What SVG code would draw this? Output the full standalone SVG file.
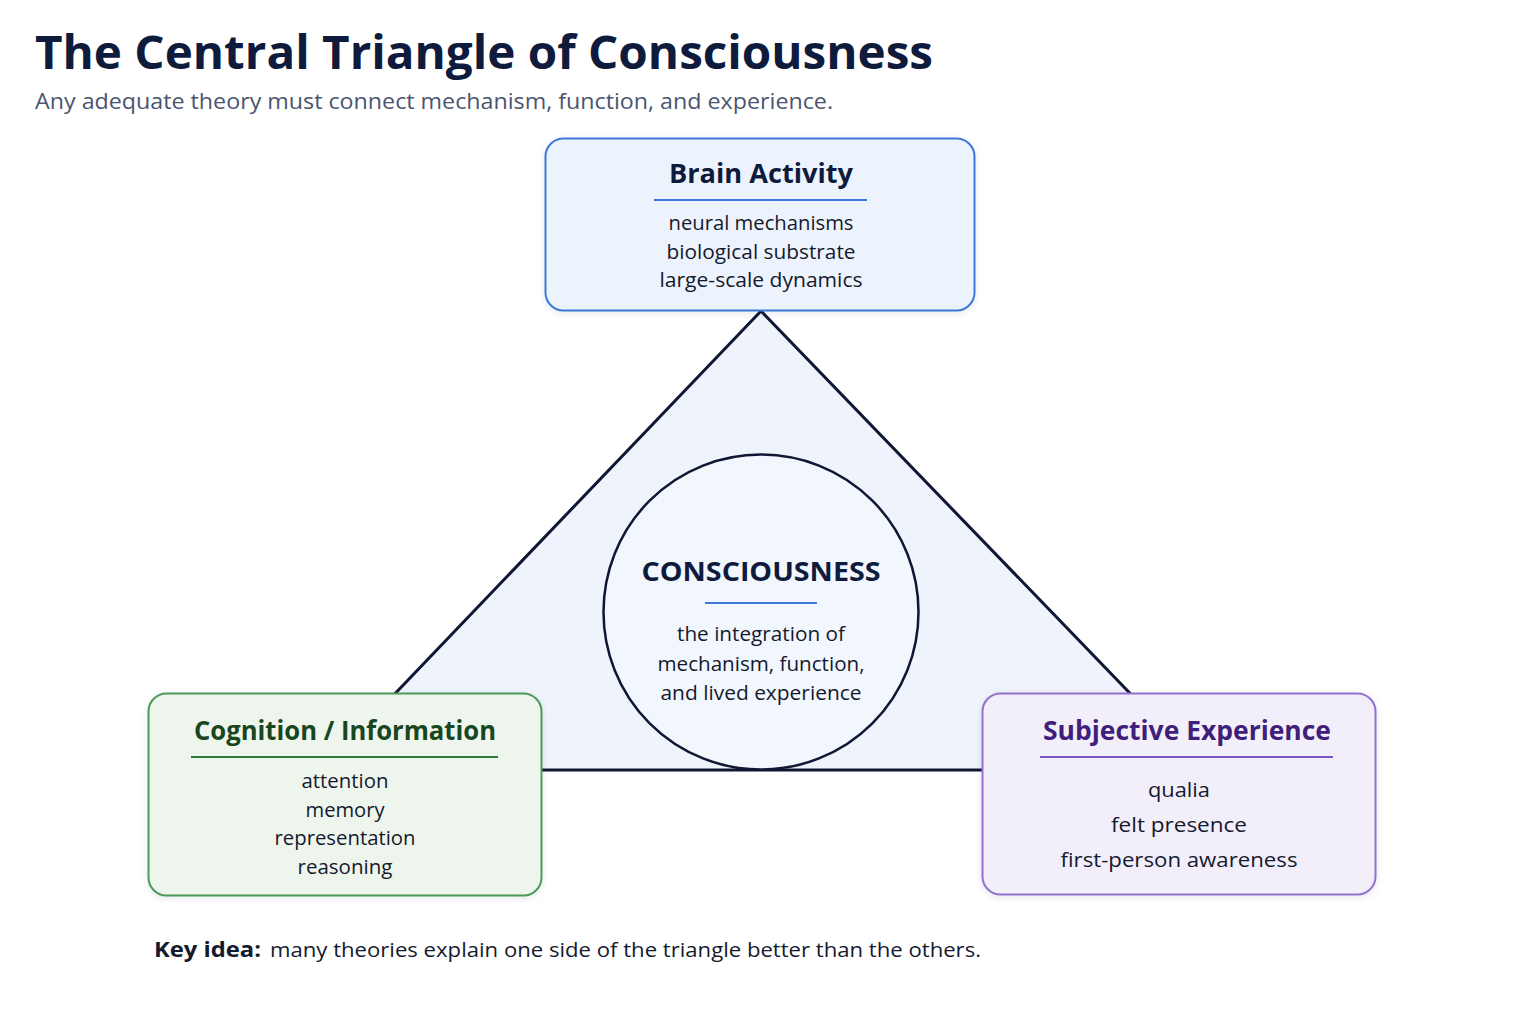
<svg xmlns="http://www.w3.org/2000/svg" width="1536" height="1024" viewBox="0 0 1536 1024">
<defs>
<style>
text{font-family:"Open Sans","Noto Sans","Liberation Sans",sans-serif;}
.title{font-size:46px;font-weight:700;fill:#0f1b3d;}
.sub{font-size:21.5px;fill:#4a5570;}
.head{font-size:26px;font-weight:700;text-anchor:middle;}
.item{font-size:20px;fill:#141a2e;text-anchor:middle;}
.key{font-size:20.5px;fill:#141a2e;}
.edge{fill:none;stroke:#0f1733;stroke-width:3;stroke-linejoin:round;}
</style>
<filter id="sh" x="-10%" y="-10%" width="120%" height="130%">
<feDropShadow dx="0" dy="2" stdDeviation="3" flood-color="#1a2a50" flood-opacity="0.10"/>
</filter>
</defs>
<rect width="1536" height="1024" fill="#ffffff"/>
<text class="title" x="35" y="69" textLength="898" lengthAdjust="spacingAndGlyphs">The Central Triangle of Consciousness</text>
<text class="sub" x="35" y="109" textLength="798" lengthAdjust="spacingAndGlyphs">Any adequate theory must connect mechanism, function, and experience.</text>

<g id="connectors">
<polygon points="761,311 322,770 1204,770" fill="#eff4fc" stroke="none"/>
<polyline class="edge" points="761,311 322,770 1204,770 761,311"/>
</g>

<g id="consciousness">
<circle cx="761" cy="612" r="157.5" fill="#f2f6fd" stroke="#0f1733" stroke-width="2.5"/>
<text class="head" x="761" y="581" style="fill:#0f1b3d" textLength="239" lengthAdjust="spacingAndGlyphs">CONSCIOUSNESS</text>
<line x1="705" y1="603" x2="817" y2="603" stroke="#3b78d8" stroke-width="2"/>
<text class="item" x="761" y="641" textLength="168" lengthAdjust="spacingAndGlyphs">the integration of</text>
<text class="item" x="761" y="671" textLength="207" lengthAdjust="spacingAndGlyphs">mechanism, function,</text>
<text class="item" x="761" y="700" textLength="201" lengthAdjust="spacingAndGlyphs">and lived experience</text>
</g>

<g id="brain">
<rect x="545.5" y="138.5" width="429" height="172" rx="18" fill="#edf3fd" stroke="#3b78d8" stroke-width="2" filter="url(#sh)"/>
<text class="head" x="761" y="183" style="fill:#0f1b3d" textLength="184" lengthAdjust="spacingAndGlyphs">Brain Activity</text>
<line x1="654" y1="200" x2="867" y2="200" stroke="#3b78d8" stroke-width="2"/>
<text class="item" x="761" y="230" textLength="185" lengthAdjust="spacingAndGlyphs">neural mechanisms</text>
<text class="item" x="761" y="259" textLength="189" lengthAdjust="spacingAndGlyphs">biological substrate</text>
<text class="item" x="761" y="287" textLength="203" lengthAdjust="spacingAndGlyphs">large-scale dynamics</text>
</g>

<g id="cognition">
<rect x="148.5" y="693.5" width="393" height="202" rx="18" fill="#eef5ec" stroke="#4c9a5b" stroke-width="2" filter="url(#sh)"/>
<text class="head" x="345" y="740" style="fill:#17461f" textLength="302" lengthAdjust="spacingAndGlyphs">Cognition / Information</text>
<line x1="191" y1="757" x2="498" y2="757" stroke="#2e7a3c" stroke-width="2"/>
<text class="item" x="345" y="788" textLength="87" lengthAdjust="spacingAndGlyphs">attention</text>
<text class="item" x="345" y="817" textLength="79" lengthAdjust="spacingAndGlyphs">memory</text>
<text class="item" x="345" y="845" textLength="141" lengthAdjust="spacingAndGlyphs">representation</text>
<text class="item" x="345" y="874" textLength="95" lengthAdjust="spacingAndGlyphs">reasoning</text>
</g>

<g id="subjective">
<rect x="982.5" y="693.5" width="393" height="201" rx="18" fill="#f2eefa" stroke="#9370cf" stroke-width="2" filter="url(#sh)"/>
<text class="head" x="1187" y="740" style="fill:#3f1f7a" textLength="288" lengthAdjust="spacingAndGlyphs">Subjective Experience</text>
<line x1="1040" y1="757" x2="1333" y2="757" stroke="#7a55c0" stroke-width="2"/>
<text class="item" x="1179" y="797" textLength="62" lengthAdjust="spacingAndGlyphs">qualia</text>
<text class="item" x="1179" y="832" textLength="136" lengthAdjust="spacingAndGlyphs">felt presence</text>
<text class="item" x="1179" y="867" textLength="237" lengthAdjust="spacingAndGlyphs">first-person awareness</text>
</g>

<text class="key" x="154" y="957" font-weight="700" fill="#0f1b3d" textLength="107" lengthAdjust="spacingAndGlyphs">Key idea:</text>
<text class="key" x="270" y="957" textLength="711" lengthAdjust="spacingAndGlyphs">many theories explain one side of the triangle better than the others.</text>
</svg>
